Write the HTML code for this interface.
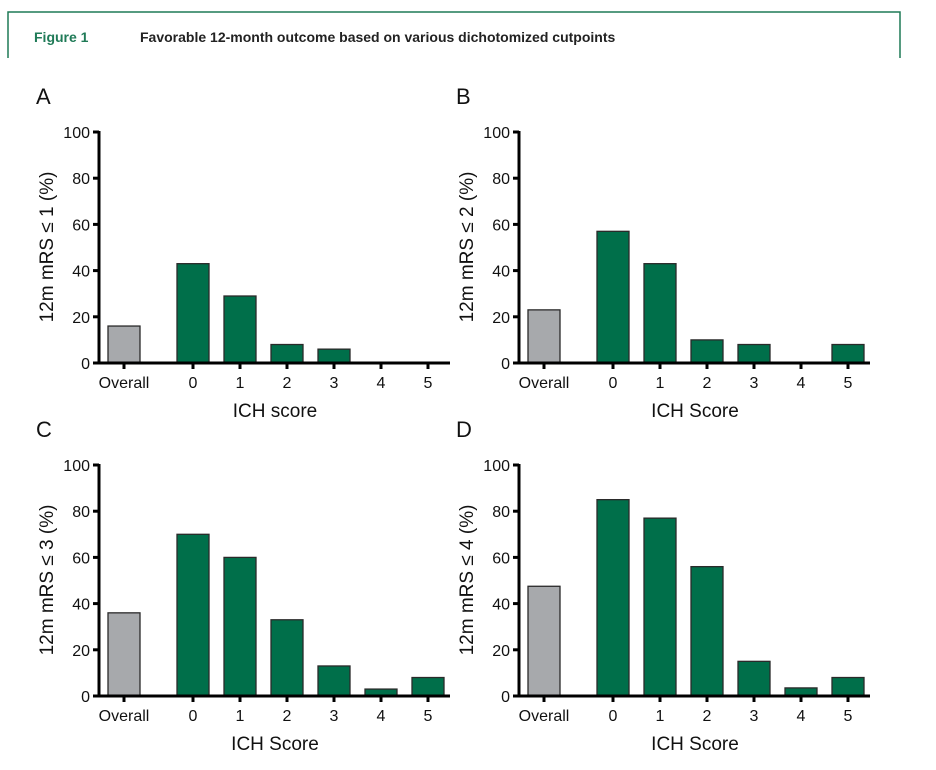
<!DOCTYPE html>
<html><head><meta charset="utf-8"><style>
body{margin:0;background:#fff;}
svg{display:block;font-family:"Liberation Sans",Arial,sans-serif;}
</style></head><body>
<svg id="fig" width="936" height="770" viewBox="0 0 936 770" xmlns="http://www.w3.org/2000/svg">
<g>
<path d="M8 58 V12 H900 V58" fill="none" stroke="#1f7a57" stroke-width="1.5"/>
<text x="34" y="42" font-size="14" font-weight="bold" fill="#1f7a57">Figure 1</text>
<text x="140" y="42" font-size="14" font-weight="bold" fill="#222">Favorable 12-month outcome based on various dichotomized cutpoints</text>
</g>
<g id="panels"></g>
</svg>
<script>
const categories = ["Overall","0","1","2","3","4","5"];
const yTicks = [0,20,40,60,80,100];
const valuesA = [16,43,29,8,6,0,0];
const valuesB = [23,57,43,10,8,0,8];
const valuesC = [36,70,60,33,13,3,8];
const valuesD = [47.5,85,77,56,15,3.5,8];
const panelLetters = ["A","B","C","D"];
const yTitles = ["12m mRS \u2264 1 (%)","12m mRS \u2264 2 (%)","12m mRS \u2264 3 (%)","12m mRS \u2264 4 (%)"];
const xTitles = ["ICH score","ICH Score","ICH Score","ICH Score"];
const allValues = [valuesA,valuesB,valuesC,valuesD];

const NS="http://www.w3.org/2000/svg";
const root=document.getElementById('panels');
function mk(tag,attrs,parent){const e=document.createElementNS(NS,tag);for(const k in attrs)e.setAttribute(k,attrs[k]);parent.appendChild(e);return e;}
const offs=[[0,0],[420,0],[0,333],[420,333]];
for(let p=0;p<4;p++){
  const ox=offs[p][0], oy=offs[p][1];
  const g=mk('g',{},root);
  
  
  const axX=99+ox, y0=363+oy, y100=132+oy, axEnd=450+ox;
  const ys=v=>y0-(v/100)*(y0-y100);
  const xs=i=> i===0 ? 124+ox : 193+ox+(i-1)*47;
  const L=mk('text',{x:36+ox,y:104+oy,'font-size':22,fill:'#111'},g); L.textContent=panelLetters[p];
  
  
  const vals=allValues[p];
  for(let i=0;i<categories.length;i++){
    if(vals[i]<=0)continue;
    const r=mk('rect',{x:xs(i)-16,y:ys(vals[i]),width:32,height:y0-ys(vals[i]),fill:i===0?'#a7a9ac':'#006f4a',stroke:'#2a2a2a','stroke-width':1.3},g);
    
    
  }
  const ya=mk('line',{x1:axX,y1:y100-1,x2:axX,y2:y0+1.5,stroke:'#000','stroke-width':3},g);
  
  
  const xa=mk('line',{x1:axX-1.5,y1:y0,x2:axEnd,y2:y0,stroke:'#000','stroke-width':3},g);
  
  
  yTicks.forEach(t=>{
    mk('line',{x1:axX-6,y1:ys(t),x2:axX,y2:ys(t),stroke:'#000','stroke-width':3},g);
    const tx=mk('text',{x:axX-9,y:ys(t)+6,'font-size':16,'text-anchor':'end',fill:'#111'},g); tx.textContent=t;
    
    
  });
  categories.forEach((c,i)=>{
    mk('line',{x1:xs(i),y1:y0,x2:xs(i),y2:y0+6,stroke:'#000','stroke-width':3},g);
    const tx=mk('text',{x:xs(i),y:y0+25,'font-size':16,'text-anchor':'middle',fill:'#111'},g); tx.textContent=c;
    
    
  });
  const xt=mk('text',{x:275+ox,y:417+oy,'font-size':19,'text-anchor':'middle',fill:'#111'},g); xt.textContent=xTitles[p];
  
  
  const yt=mk('text',{x:0,y:0,'font-size':19,'text-anchor':'middle',fill:'#111',transform:`translate(${53+ox},${247+oy}) rotate(-90)`},g); yt.textContent=yTitles[p];
  
  
}
</script>
</body></html>
